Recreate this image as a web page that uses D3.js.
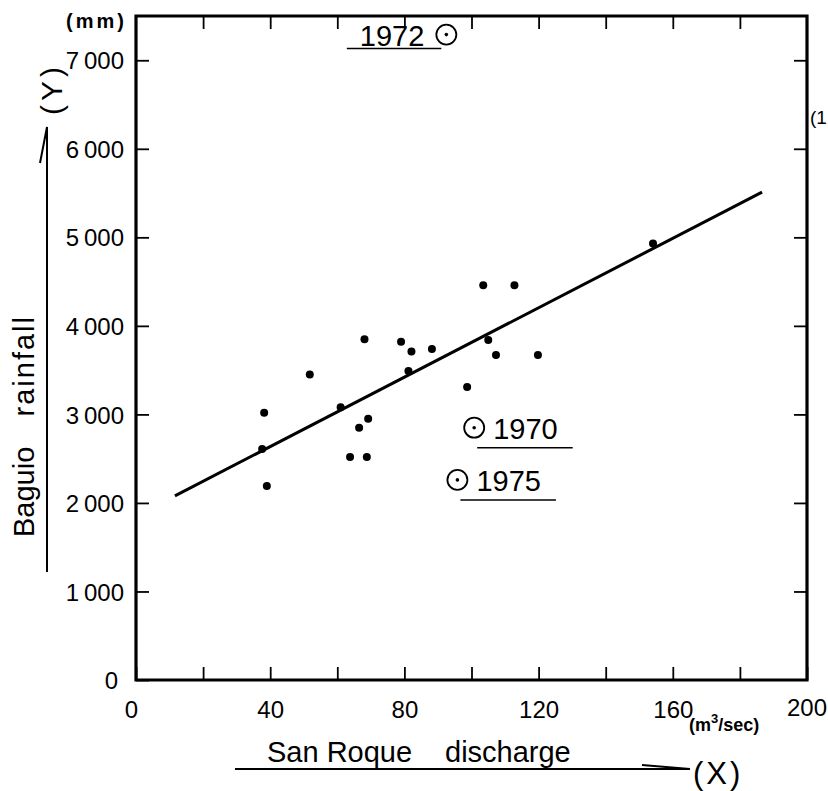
<!DOCTYPE html>
<html>
<head>
<meta charset="utf-8">
<script src="https://cdn.jsdelivr.net/npm/d3@7"></script>
<style>
  body { margin: 0; background: #fff; }
  text { font-family: "Liberation Sans", Arial, sans-serif; fill: #000; }
</style>
</head>
<body>
<div id="chart"></div>
<script>
// discharge (m3/sec) and rainfall (mm) for each year
const dischargeX = [38.2, 37.6, 39.0, 51.8, 61.0, 63.8, 68.8, 66.5, 69.2, 68.1, 79.0,
                    82.1, 81.2, 88.2, 103.5, 112.8, 105.0, 107.3, 119.8, 98.7, 154.1];
const rainfallY  = [3020, 2610, 2190, 3450, 3080, 2520, 2520, 2850, 2950, 3850, 3820,
                    3710, 3490, 3740, 4460, 4460, 3840, 3670, 3670, 3310, 4930];

// years shown apart (circled)
const markedYears = [1972, 1970, 1975];
const markedX     = [92.5, 100.8, 95.8];
const markedY     = [7290, 2850, 2260];
const markedSide  = ["left", "right", "right"];

// regression line end points
const fitX = [11.6, 186.6];
const fitY = [2080, 5510];

const xTicks = [0, 20, 40, 60, 80, 100, 120, 140, 160, 180, 200];
const xLabels = [0, 40, 80, 120, 160, 200];
const yTicks = [0, 1000, 2000, 3000, 4000, 5000, 6000, 7000];

const W = 828, H = 791;
const x = d3.scaleLinear().domain([0, 200]).range([136, 807]);
const y = d3.scaleLinear().domain([0, 7500]).range([680, 16]);

const svg = d3.select("#chart").append("svg")
  .attr("width", W).attr("height", H);

const fmtY = d => d === 0 ? "0" : (d / 1000) + "\u2009000";

// axes, ticks inward
const gx = svg.append("g").attr("transform", "translate(0," + y(0) + ")")
  .call(d3.axisBottom(x).tickValues(xTicks).tickSize(-13).tickPadding(21)
    .tickFormat(d => xLabels.includes(d) && d !== 200 ? d : ""));
const gxTop = svg.append("g").attr("transform", "translate(0," + y(7500) + ")")
  .call(d3.axisTop(x).tickValues(xTicks.slice(1, -1)).tickSize(-13).tickFormat(""));
const gy = svg.append("g").attr("transform", "translate(" + x(0) + ",0)")
  .call(d3.axisLeft(y).tickValues(yTicks).tickSize(-13).tickPadding(12).tickFormat(fmtY));
const gyR = svg.append("g").attr("transform", "translate(" + x(200) + ",0)")
  .call(d3.axisRight(y).tickValues(yTicks.slice(1)).tickSize(-13).tickFormat(""));

[gx, gxTop, gy, gyR].forEach(g => {
  g.select(".domain").remove();
  g.selectAll(".tick line").attr("stroke", "#000").attr("stroke-width", 1.8);
  g.selectAll(".tick text").style("font-size", "24px").attr("fill", "#000");
});
gy.selectAll(".tick text").attr("dy", "0.36em");
gx.selectAll(".tick text").filter(d => d === 0).attr("dx", -5);
gy.selectAll(".tick text").filter(d => d === 0).attr("dx", -6);

// 200 label sits a bit higher
svg.append("text").attr("x", x(200)).attr("y", 716)
  .attr("text-anchor", "middle").style("font-size", "24px").text("200");

// frame
svg.append("path")
  .attr("d", "M" + x(0) + "," + y(7500) + "H" + x(200) + "V" + y(0) + "H" + x(0) + "Z")
  .attr("fill", "none").attr("stroke", "#000").attr("stroke-width", 3.2);

// regression line
svg.append("path")
  .datum(d3.zip(fitX, fitY))
  .attr("d", d3.line().x(d => x(d[0])).y(d => y(d[1])))
  .attr("stroke", "#000").attr("stroke-width", 3).attr("fill", "none");

// points
svg.append("g").selectAll("circle")
  .data(d3.zip(dischargeX, rainfallY))
  .join("circle")
  .attr("cx", d => x(d[0])).attr("cy", d => y(d[1]))
  .attr("r", 4).attr("fill", "#000");

// marked years
markedYears.forEach((yr, i) => {
  const cx = x(markedX[i]), cy = y(markedY[i]);
  const g = svg.append("g");
  g.append("circle").attr("cx", cx).attr("cy", cy).attr("r", 10)
    .attr("fill", "none").attr("stroke", "#000").attr("stroke-width", 1.8);
  g.append("circle").attr("cx", cx).attr("cy", cy).attr("r", 1.8).attr("fill", "#000");
  const left = markedSide[i] === "left";
  const t = g.append("text")
    .attr("x", left ? cx - 22 : cx + 19)
    .attr("y", cy + 11)
    .attr("text-anchor", left ? "end" : "start")
    .style("font-size", "29px").text(yr);
  const bb = t.node().getBBox();
  const u0 = left ? bb.x - 13 : cx + 3;
  const u1 = left ? cx - 5 : bb.x + bb.width + 15;
  g.append("line").attr("x1", u0).attr("x2", u1)
    .attr("y1", cy + (left ? 14 : 20)).attr("y2", cy + (left ? 14 : 20))
    .attr("stroke", "#000").attr("stroke-width", 1.5);
});

// units
svg.append("text").attr("x", 127).attr("y", 28).attr("text-anchor", "end")
  .style("font-size", "20px").style("font-weight", "bold")
  .style("letter-spacing", "3px").text("(mm)");
const unit = svg.append("text").attr("x", 689).attr("y", 731)
  .style("font-size", "18px").style("font-weight", "bold");
unit.append("tspan").text("(m");
unit.append("tspan").attr("dy", -8).style("font-size", "13px").text("3");
unit.append("tspan").attr("dy", 8).text("/sec)");

// side note at the right edge
svg.append("text").attr("x", 810).attr("y", 124).style("font-size", "19px").text("(1");

// y title
svg.append("text").attr("transform", "translate(34,537) rotate(-90)")
  .style("font-size", "29px").text("Baguio");
svg.append("text").attr("transform", "translate(34,315) rotate(-90)")
  .attr("text-anchor", "end").style("font-size", "29px")
  .style("letter-spacing", "2px").text("rainfall");
svg.append("text").attr("transform", "translate(62,89) rotate(-90)")
  .attr("text-anchor", "middle").style("font-size", "30px")
  .style("letter-spacing", "4px").text("(Y)");
svg.append("path").attr("d", "M47,572V127L40,163")
  .attr("fill", "none").attr("stroke", "#000").attr("stroke-width", 2);

// x title
svg.append("text").attr("x", 267).attr("y", 762).style("font-size", "29px").text("San Roque");
svg.append("text").attr("x", 445).attr("y", 762).style("font-size", "29px").text("discharge");
svg.append("text").attr("x", 693).attr("y", 784).style("font-size", "31px")
  .style("letter-spacing", "3px").text("(X)");
svg.append("path").attr("d", "M235,769H690L642,765")
  .attr("fill", "none").attr("stroke", "#000").attr("stroke-width", 1.8);
</script>
</body>
</html>
